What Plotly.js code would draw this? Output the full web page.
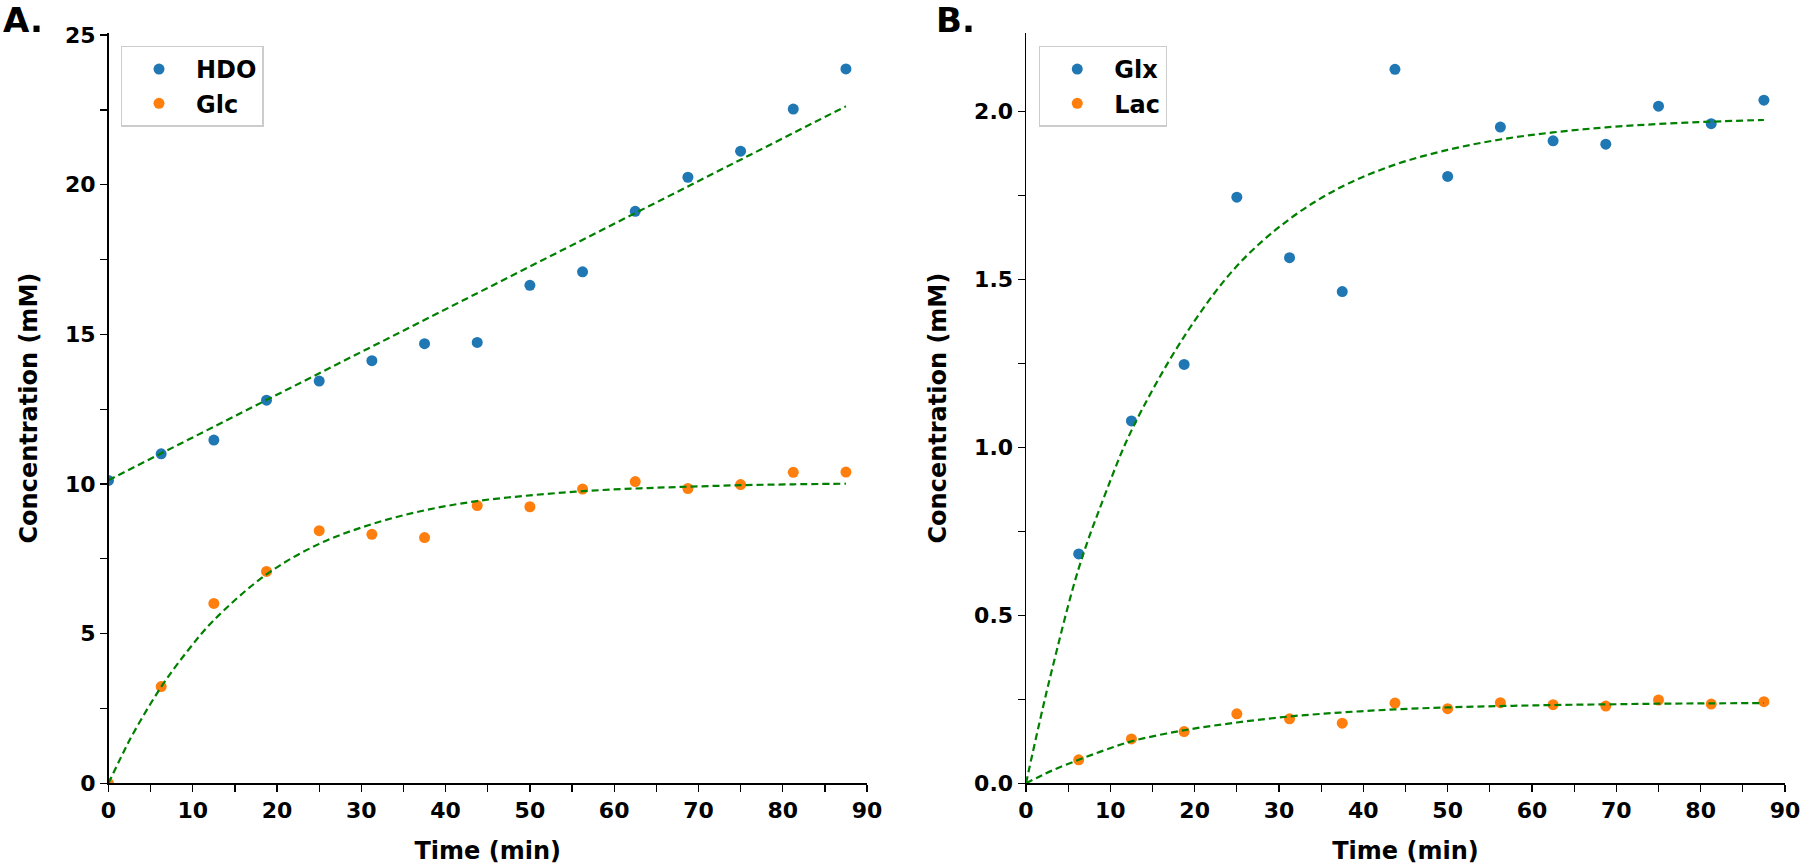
<!DOCTYPE html>
<html>
<head>
<meta charset="utf-8">
<script src="https://cdn.plot.ly/plotly-3.0.1.min.js"></script>
<style>html,body{margin:0;padding:0;background:#fff;}#chart{width:1800px;height:866px;}</style>
</head>
<body>
<div id="chart"></div>
<script>
// ---- data ----
var times = [0, 6.25, 12.5, 18.75, 25, 31.25, 37.5, 43.75, 50, 56.25, 62.5, 68.75, 75, 81.25, 87.5];
var hdo = [10.12, 11.01, 11.47, 12.80, 13.44, 14.12, 14.69, 14.73, 16.64, 17.09, 19.11, 20.25, 21.12, 22.53, 23.87];
var glc = [0.0, 3.23, 6.01, 7.08, 8.44, 8.32, 8.21, 9.28, 9.24, 9.83, 10.08, 9.85, 9.98, 10.39, 10.40];

var timesB = [6.25, 12.5, 18.75, 25, 31.25, 37.5, 43.75, 50, 56.25, 62.5, 68.75, 75, 81.25, 87.5];
var glx = [0.683, 1.079, 1.247, 1.745, 1.565, 1.464, 2.126, 1.807, 1.954, 1.913, 1.903, 2.016, 1.964, 2.034];
var lac = [0.070, 0.132, 0.154, 0.207, 0.192, 0.179, 0.239, 0.222, 0.240, 0.234, 0.230, 0.248, 0.236, 0.243];

// fitted curves
var hdoFitT = [0, 87.5];
var hdoFit = [10.13, 22.62];
var fitT = [0, 1.5, 3, 6.25, 9.375, 12.5, 18.75, 25, 31.25, 37.5, 43.75, 50, 56.25, 62.5, 68.75, 75, 81.25, 87.5];
var glcFit = [0, 0.88, 1.70, 3.22, 4.42, 5.45, 6.98, 8.00, 8.66, 9.12, 9.43, 9.62, 9.76, 9.85, 9.91, 9.96, 9.99, 10.01];
var glxFit = [0, 0.17, 0.33, 0.64, 0.86, 1.05, 1.33, 1.54, 1.68, 1.777, 1.842, 1.886, 1.917, 1.938, 1.953, 1.963, 1.970, 1.975];
var lacFit = [0, 0.019, 0.037, 0.070, 0.099, 0.125, 0.158, 0.181, 0.199, 0.211, 0.220, 0.226, 0.230, 0.233, 0.235, 0.237, 0.238, 0.239];

var blue = '#1f77b4', orange = '#ff7f0e', green = '#008000';
var FONT = 'DejaVu Sans';

function pts(x, y, name, color, xa, ya, leg) {
  return {x: x, y: y, name: name, type: 'scatter', mode: 'markers',
    marker: {color: color, size: 11}, xaxis: xa, yaxis: ya, legend: leg, cliponaxis: true};
}
function fit(x, y, xa, ya, shape) {
  return {x: x, y: y, type: 'scatter', mode: 'lines', showlegend: false, hoverinfo: 'skip',
    line: {color: green, width: 2.2, dash: '7px,4px', shape: shape || 'spline'}, xaxis: xa, yaxis: ya};
}

var traces = [
  pts(times, hdo, 'HDO', blue, 'x', 'y', 'legend'),
  pts(times, glc, 'Glc', orange, 'x', 'y', 'legend'),
  pts(timesB, glx, 'Glx', blue, 'x2', 'y2', 'legend2'),
  pts(timesB, lac, 'Lac', orange, 'x2', 'y2', 'legend2'),
  fit(hdoFitT, hdoFit, 'x', 'y', 'linear'),
  fit(fitT, glcFit, 'x', 'y'),
  fit(fitT, glxFit, 'x2', 'y2'),
  fit(fitT, lacFit, 'x2', 'y2')
];

function xAxis(domain, anchor) {
  return {domain: domain, anchor: anchor, range: [0, 90], tick0: 0, dtick: 10,
    ticks: 'outside', ticklen: 7, tickwidth: 1.3, tickcolor: 'black', ticklabeloverflow: 'allow',
    showline: true, linecolor: 'black', linewidth: 1.5, showgrid: false, zeroline: false,
    tickfont: {family: FONT, size: 22, weight: 'bold', color: 'black'},
    minor: {dtick: 5, ticks: 'outside', ticklen: 7, tickwidth: 1.3, tickcolor: 'black', showgrid: false},
    title: {text: 'Time (min)', font: {family: FONT, size: 24, weight: 'bold', color: 'black'}, standoff: 20}};
}
function yAxis(domain, anchor, range, dtick, minor, fmt) {
  return {domain: domain, anchor: anchor, range: range, tick0: 0, dtick: dtick, tickformat: fmt,
    ticks: 'outside', ticklen: 7, tickwidth: 1.3, tickcolor: 'black', ticklabeloverflow: 'allow',
    showline: true, linecolor: 'black', linewidth: 1.5, showgrid: false, zeroline: false,
    tickfont: {family: FONT, size: 22, weight: 'bold', color: 'black'},
    minor: {dtick: minor, ticks: 'outside', ticklen: 7, tickwidth: 1.3, tickcolor: 'black', showgrid: false},
    title: {text: 'Concentration (mM)', font: {family: FONT, size: 24, weight: 'bold', color: 'black'}, standoff: 20}};
}

var yDom = [0.0955, 0.9619];
var legStyle = {font: {family: FONT, size: 24, weight: 'bold', color: 'black'}, bgcolor: 'rgba(255,255,255,0.8)',
  bordercolor: '#cccccc', borderwidth: 1.3, xanchor: 'left', yanchor: 'top', itemwidth: 64};

var layout = {
  width: 1800, height: 866, margin: {l: 0, r: 0, t: 0, b: 0},
  paper_bgcolor: 'white', plot_bgcolor: 'white',
  font: {family: FONT, size: 22, color: 'black'},
  showlegend: true,
  xaxis: xAxis([0.06028, 0.48167], 'y'),
  yaxis: yAxis(yDom, 'x', [0, 25.07], 5, 2.5, 'd'),
  xaxis2: xAxis([0.57, 0.99167], 'y2'),
  yaxis2: yAxis(yDom, 'x2', [0, 2.234], 0.5, 0.25, '.1f'),
  legend: Object.assign({x: 0.06706, y: 0.9472}, legStyle),
  legend2: Object.assign({x: 0.5772, y: 0.9472}, legStyle),
  annotations: [
    {xref: 'paper', yref: 'paper', x: 0.0005, y: 1 - 20 / 866, xanchor: 'left', yanchor: 'middle',
      text: 'A.', showarrow: false, font: {family: FONT, size: 34, weight: 'bold', color: 'black'}},
    {xref: 'paper', yref: 'paper', x: 934 / 1800, y: 1 - 20 / 866, xanchor: 'left', yanchor: 'middle',
      text: 'B.', showarrow: false, font: {family: FONT, size: 34, weight: 'bold', color: 'black'}}
  ]
};

Plotly.newPlot('chart', traces, layout, {displayModeBar: false, staticPlot: true});
</script>
</body>
</html>
